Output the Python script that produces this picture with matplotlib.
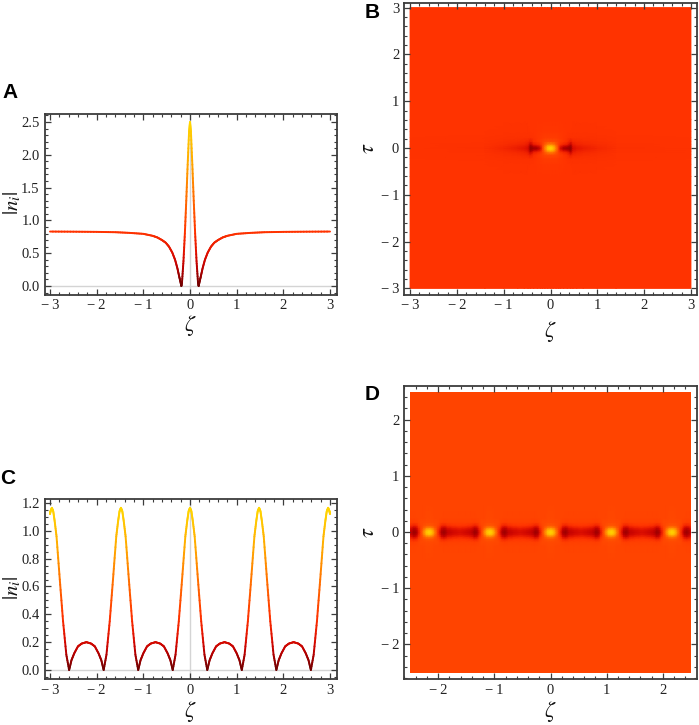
import numpy as np
import matplotlib
matplotlib.use("Agg")
import matplotlib.pyplot as plt
from matplotlib.collections import LineCollection
from matplotlib.colors import LinearSegmentedColormap
from matplotlib.patches import Rectangle
from matplotlib.ticker import AutoMinorLocator

W, H = 699, 725
plt.rcParams['font.family'] = ['Liberation Serif', 'DejaVu Serif']
plt.rcParams['mathtext.fontset'] = 'stix'

# Panel A: half curve, zeta >= 0
a_zeta = [0, .02, .05, .08, .11, .14, .17, .185, .2, .23, .27, .32, .38, .45, .52, .6, .7, .8, 1.0, 1.3, 1.6, 2.0, 2.5, 3.0]
a_n = [2.5, 2.35, 1.85, 1.3, .8, .38, .07, 0, .05, .14, .27, .4, .51, .6, .66, .7, .74, .765, .795, .81, .82, .825, .828, .83]

# Panel C: half curve, zeta >= 0
c_zeta = [0, .03, .06, .1, .17, .24, .31, .37, .42, .48, .56, .64, .74, .84, .92, 1.0, 1.06, 1.11, 1.17, 1.24, 1.31, 1.38, 1.42, 1.45,
          1.48, 1.51, 1.54, 1.58, 1.65, 1.72, 1.79, 1.85, 1.90, 1.96, 2.04, 2.12, 2.22, 2.32, 2.40, 2.48, 2.54, 2.59, 2.65, 2.72, 2.79, 2.86, 2.90, 2.93,
          2.96, 2.99, 3.0]
c_n = [1.165, 1.14, 1.07, .96, .65, .35, .11, 0, .07, .12, .17, .19, .2, .19, .17, .12, .07, 0, .11, .35, .65, .96, 1.07, 1.14,
       1.165, 1.14, 1.07, .96, .65, .35, .11, 0, .07, .12, .17, .19, .2, .19, .17, .12, .07, 0, .11, .35, .65, .96, 1.07, 1.14,
       1.165, 1.14, 1.12]

# Panel B: heat values (|n| scale) on half-plane nodes
b_zeta = [0, .06, .12, .17, .21, .28, .36, .43, .48, .56, .7, 1.0, 1.4, 3.0]
b_tau = [0, .04, .08, .14, .22, .35, .6, 3.0]
b_vals = [
    [2.5, 2.2, 1.5, .95, .45, .22, .18, .14, .45, .55, .62, .72, .8, .825],
    [2.25, 2.0, 1.4, .95, .6, .38, .3, .16, .5, .6, .66, .75, .81, .825],
    [1.6, 1.5, 1.2, .95, .8, .7, .6, .3, .6, .68, .72, .77, .81, .825],
    [1.05, 1.05, 1.0, .95, .9, .84, .78, .6, .72, .75, .77, .79, .82, .825],
    [.9, .9, .9, .88, .86, .84, .82, .8, .8, .8, .8, .81, .82, .825],
    [.85, .85, .85, .85, .84, .84, .83, .83, .82, .82, .82, .82, .825, .825],
    [.83, .83, .83, .83, .83, .83, .83, .83, .83, .825, .825, .825, .825, .825],
    [.825, .825, .825, .825, .825, .825, .825, .825, .825, .825, .825, .825, .825, .825],
]

# Panel D: heat values (share of the peak) over half a period of the row of spots
d_period = 1.08
d_zeta = [0, .05, .1, .15, .19, .22, .27, .33, .42, .54]
d_tau = [0, .04, .08, .12, .17, .25, .5, 2.5]
d_vals = [
    [1.0, .9, .62, .36, .2, .09, .07, .13, .16, .19],
    [.9, .8, .56, .36, .24, .12, .09, .15, .18, .21],
    [.62, .58, .47, .37, .3, .18, .14, .22, .25, .28],
    [.46, .45, .42, .39, .35, .29, .27, .31, .33, .34],
    [.41, .41, .4, .4, .38, .37, .36, .37, .37, .37],
    [.395, .395, .39, .39, .39, .39, .385, .385, .385, .385],
    [.39, .39, .39, .39, .39, .39, .39, .39, .39, .39],
    [.39, .39, .39, .39, .39, .39, .39, .39, .39, .39],
]

x_ticks_wide = [-3, -2, -1, 0, 1, 2, 3]
x_ticks_d = [-2, -1, 0, 1, 2]
y_ticks_a = [0.0, 0.5, 1.0, 1.5, 2.0, 2.5]
y_ticks_c = [0.0, 0.2, 0.4, 0.6, 0.8, 1.0, 1.2]

cmap = LinearSegmentedColormap.from_list('sun', [
    (0.0, '#6e0000'), (0.05, '#900000'), (0.12, '#c00000'), (0.2, '#e01000'), (0.33, '#ff3300'),
    (0.39, '#ff4500'), (0.55, '#ff7000'), (0.75, '#ffa800'), (1.0, '#ffd800')])
FRAME = '#3c3c3c'


def make_axes(l, r, t, b):
    ax = fig.add_axes([l / W, 1 - b / H, (r - l) / W, (b - t) / H])
    for s in ax.spines.values():
        s.set_color(FRAME)
        s.set_linewidth(1.3)
    return ax


def lab(v, fmt):
    s = fmt.format(abs(v))
    return ('\u2212\u2009' + s) if v < 0 else s


def style(ax, xt, yt, yfmt, xminor=5, yminor=5):
    ax.set_xticks(xt)
    ax.set_yticks(yt)
    ax.set_xticklabels([lab(v, '{:d}') for v in xt])
    ax.set_yticklabels([lab(v, yfmt) for v in yt])
    ax.xaxis.set_minor_locator(AutoMinorLocator(xminor))
    ax.yaxis.set_minor_locator(AutoMinorLocator(yminor))
    ax.tick_params(which='major', direction='in', length=4, width=0.9, top=True, right=True,
                   color=FRAME, labelsize=10.5, labelcolor='#222222', pad=3.5)
    ax.tick_params(which='minor', direction='in', length=2, width=0.8, top=True, right=True, color=FRAME)


def gradient_line(ax, xs, ys, vmax):
    # straight pieces between the read points, split only so the colour can run along them
    px, py = [], []
    for i in range(len(xs) - 1):
        px += list(np.linspace(xs[i], xs[i + 1], 9)[:-1])
        py += list(np.linspace(ys[i], ys[i + 1], 9)[:-1])
    px.append(xs[-1])
    py.append(ys[-1])
    px, py = np.array(px), np.array(py)
    pts = np.column_stack([px, py]).reshape(-1, 1, 2)
    segs = np.concatenate([pts[:-1], pts[1:]], axis=1)
    lc = LineCollection(segs, cmap=cmap, norm=plt.Normalize(0, vmax), linewidth=1.4, capstyle='round', zorder=3)
    lc.set_array((py[:-1] + py[1:]) / 2)
    ax.add_collection(lc)


def mirror(x, y):
    x, y = np.asarray(x, float), np.asarray(y, float)
    return np.r_[-x[:0:-1], x], np.r_[y[:0:-1], y]


def label_text(x, y, s, size, **kw):
    fig.text(x / W, 1 - y / H, s, ha='center', va='center', fontsize=size, color='#111111', **kw)


fig = plt.figure(figsize=(W / 100, H / 100), dpi=100, facecolor='white')

# A
axA = make_axes(44.5, 336.5, 113.5, 294.5)
axA.set_xlim((44.5 - 190) / 46.67, (336.5 - 190) / 46.67)
axA.set_ylim((286 - 294.5) / 65.6, (286 - 113.5) / 65.6)
axA.axhline(0, color='#d4d4d4', lw=1, zorder=1)
axA.axvline(0, color='#d4d4d4', lw=1, zorder=1)
gradient_line(axA, *mirror(a_zeta, a_n), 2.5)
style(axA, x_ticks_wide, y_ticks_a, '{:.1f}')

# C
axC = make_axes(44.5, 336.5, 498.5, 679)
axC.set_xlim((44.5 - 190) / 46.67, (336.5 - 190) / 46.67)
axC.set_ylim((670 - 679) / 139.2, (670 - 498.5) / 139.2)
axC.axhline(0, color='#d4d4d4', lw=1, zorder=1)
axC.axvline(0, color='#d4d4d4', lw=1, zorder=1)
gradient_line(axC, *mirror(c_zeta, c_n), 1.165)
style(axC, x_ticks_wide, y_ticks_c, '{:.1f}', yminor=4)

# B
axB = make_axes(404, 696.5, 3, 294.5)
scale_b = 46.8
axB.set_xlim((404 - 550.5) / scale_b, (696.5 - 550.5) / scale_b)
axB.set_ylim((148 - 294.5) / scale_b, (148 - 3) / scale_b)
bz = np.array(b_zeta)
bt = np.array(b_tau)
bv = np.array(b_vals) / 2.5
BZ = np.r_[-bz[:0:-1], bz]
BT = np.r_[-bt[:0:-1], bt]
BV = np.hstack([bv[:, :0:-1], bv])
BV = np.vstack([BV[:0:-1], BV])
axB.pcolormesh(BZ, BT, BV, cmap=cmap, vmin=0, vmax=1, shading='gouraud', rasterized=True)
style(axB, x_ticks_wide, x_ticks_wide, '{:d}')

# D
axD = make_axes(404, 696.5, 386, 679)
scale_d = 56.2
axD.set_xlim((404 - 550.5) / scale_d, (696.5 - 550.5) / scale_d)
axD.set_ylim((532 - 679) / scale_d, (532 - 386) / scale_d)
dz = np.array(d_zeta)
dt = np.array(d_tau)
dv = np.array(d_vals)
cell_z = np.r_[-dz[:0:-1], dz[:-1]]
cell_v = np.hstack([dv[:, :0:-1], dv[:, :-1]])
DZ = np.concatenate([cell_z + k * d_period for k in range(-3, 4)] + [[dz[-1] + 3 * d_period]])
DV = np.hstack([cell_v] * 7 + [dv[:, -1:]])
DT = np.r_[-dt[:0:-1], dt]
DV = np.vstack([DV[:0:-1], DV])
mesh = axD.pcolormesh(DZ, DT, DV, cmap=cmap, vmin=0, vmax=1, shading='gouraud', rasterized=True)
mesh.set_clip_path(Rectangle((-2.5, -2.5), 5, 5, transform=axD.transData))
style(axD, x_ticks_d, x_ticks_d, '{:d}')

# axis titles
label_text(190, 325, r'$\zeta$', 16)
label_text(190, 712, r'$\zeta$', 16)
label_text(550, 331, r'$\zeta$', 16)
label_text(550, 712, r'$\zeta$', 16)
label_text(12, 203, r'$|n_i|$', 15, rotation=90)
label_text(12, 588, r'$|n_i|$', 15, rotation=90)
label_text(370, 148, r'$\tau$', 16, rotation=90)
label_text(370, 532, r'$\tau$', 16, rotation=90)

# panel letters
for s, x, y in [('A', 10, 93), ('B', 372, 12), ('C', 8, 479), ('D', 372, 394)]:
    fig.text(x / W, 1 - y / H, s, ha='center', va='center', fontsize=15, fontweight='bold',
             family='Liberation Sans', color='black')

fig.savefig('out.png', dpi=100, facecolor='white')
